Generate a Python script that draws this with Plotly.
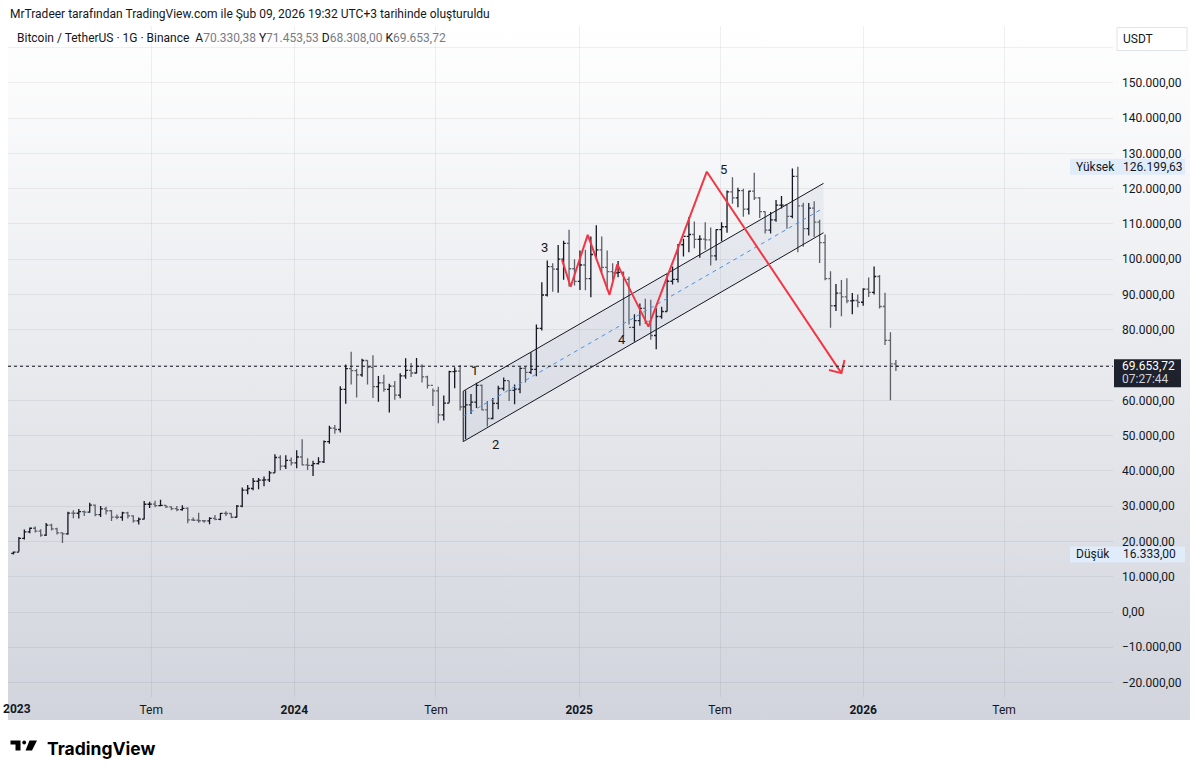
import base64
import pandas as pd
import plotly.graph_objects as go

# ---------------- data (weekly bars) ----------------
first_open = 16620
week_high = [17180, 21260, 23370, 23960, 24250, 23420, 25250, 25020, 23880, 22600,
             28390, 28870, 29190, 28800, 31000, 30480, 30030, 29850, 28880, 27670,
             28450, 28450, 27400, 26800, 31430, 31280, 31500, 31800, 30350, 29990,
             30050, 30250, 29680, 26800, 28140, 26100, 26840, 27480, 28060, 28580,
             27990, 30300, 35280, 35980, 38000, 37980, 38400, 40000, 44700, 44400,
             44400, 43800,
             45880, 48970, 43580, 42840, 43880, 48590, 52820, 52990, 64000, 70170,
             73780, 68920, 71770, 71370, 72800, 66870, 67230, 64730, 65500, 67700,
             71950, 70600, 71990, 70200, 66990, 63370, 63860, 61400, 68380, 69400,
             70000, 62750, 61800, 65000, 64480, 59800, 60670, 64130, 66500, 65550,
             64480, 69400, 69520, 73620, 81500, 93480, 99600, 98870, 104000, 105250,
             108350, 99960, 102500,
             102700, 106400, 109590, 106460, 102500, 98830, 99480, 96500, 95000, 84400,
             87450, 88770, 88500, 86100, 86500, 95760, 97900, 104300, 105800, 111980,
             110700, 106800, 110500, 108950, 108500, 110500, 119500, 123200, 120250, 120000,
             119400, 124470, 117600, 113600, 113400, 116750, 117900, 115400, 125700, 126199.63,
             116000, 115900, 116400, 111200, 107000, 96600, 93000, 94100, 94600, 90400,
             90000, 91800,
             94800, 97900, 95500, 90500, 79300, 71453.53]
week_low = [16333, 17160, 20550, 22300, 22500, 21350, 21530, 23080, 21970, 19550,
            21900, 26600, 26500, 27200, 28150, 27120, 26940, 27650, 25810, 26310,
            25880, 26500, 25350, 24800, 26250, 29500, 29700, 29950, 29500, 28860,
            28580, 28700, 25170, 25800, 25330, 25330, 24900, 26000, 26000, 27200,
            26540, 26780, 29700, 33400, 34520, 34800, 35630, 36880, 39460, 40200,
            40550, 41500,
            40750, 41500, 40280, 38550, 41820, 42260, 47710, 50520, 50900, 59000,
            64500, 60770, 66700, 64500, 60660, 59600, 62400, 56550, 60180, 60600,
            66100, 66600, 67600, 65060, 63380, 58400, 53500, 54260, 59400, 63440,
            57120, 49000, 56100, 57800, 57200, 52550, 54600, 57500, 62700, 59820,
            58900, 62000, 65060, 67460, 66840, 79780, 89400, 90790, 90500, 94150,
            92230, 92520, 91300,
            91200, 89250, 100100, 96300, 91230, 94090, 94870, 78250, 81500, 76600,
            81150, 81600, 77150, 74500, 83100, 85150, 92800, 93400, 100800, 102000,
            103100, 100400, 102700, 98200, 99600, 105100, 107500, 115700, 114700, 112000,
            112650, 116800, 111700, 107300, 107250, 110600, 114400, 108600, 111600, 102000,
            103500, 106700, 106300, 98900, 94000, 80600, 85300, 83800, 87500, 84400,
            86400, 86800,
            89300, 90000, 86000, 75700, 60000, 68308.00]
week_close = [16950, 20880, 22710, 23740, 22930, 21780, 24630, 23550, 22430, 22130,
              28040, 27990, 28450, 28330, 30300, 27600, 29230, 28700, 26900, 26850,
              28070, 27230, 25840, 26340, 30540, 30590, 30170, 30240, 29790, 29280,
              29040, 29400, 26090, 26000, 25860, 25840, 26530, 26260, 27980, 27920,
              26850, 29990, 34520, 35010, 37060, 37370, 37450, 39460, 43790, 41370,
              43000, 42280,
              43930, 41730, 41580, 42030, 42580, 48300, 52140, 51730, 63110, 68960,
              68390, 67210, 71280, 69360, 63900, 64940, 63100, 64010, 61480, 66940,
              68510, 67750, 69650, 66640, 64250, 62680, 55860, 59200, 68160, 68250,
              58160, 58710, 59490, 64220, 57300, 54840, 59130, 63350, 65600, 62820,
              63200, 69030, 67930, 68770, 80370, 89850, 97900, 97190, 100000, 104460,
              97290, 93700, 98360,
              94490, 101330, 102620, 97700, 96460, 96120, 96260, 94270, 80700, 82600,
              86080, 82390, 78370, 83760, 85180, 93750, 94280, 104100, 106450, 107000,
              105600, 105700, 105500, 100960, 108370, 109200, 119100, 117400, 119450, 114200,
              119300, 117400, 113500, 108250, 111150, 115300, 115300, 112150, 123500, 115100,
              108650, 114500, 110500, 104700, 94500, 86800, 90400, 89300, 88200, 88300,
              87800, 91500,
              90600, 95100, 86600, 77000, 70330.38, 69653.72]

last_price = 69653.72
stat_high = 126199.63
stat_low = 16333.00
countdown = "07:27:44"

# drawings
chan_dates = ["2024-08-05", "2025-11-11"]
chan_upper = [62600, 121500]
chan_lower = [48300, 107500]
zig_dates = ["2024-12-10", "2024-12-21", "2025-01-12", "2025-02-09", "2025-02-19",
             "2025-03-31", "2025-06-14", "2025-12-04"]
zig_prices = [99800, 92200, 106900, 89900, 98600, 80900, 124800, 67700]
head_dates = ["2025-11-18", "2025-12-04", "2025-12-08"]
head_prices = [68600, 67700, 71400]
wave_labels = ["1", "2", "3", "4", "5"]
wave_dates = ["2024-08-20", "2024-09-15", "2024-11-17", "2025-02-25", "2025-07-06"]
wave_prices = [68400, 47600, 103400, 77100, 125300]

x_tickvals = ["2023-07-01", "2024-01-01", "2024-07-01",
              "2025-01-01", "2025-07-01", "2026-01-01", "2026-07-01"]
x_ticktext = ["Tem", "<b>2024</b>", "Tem", "<b>2025</b>", "Tem", "<b>2026</b>", "Tem"]
first_year_label = "2023"
y_tickvals = list(range(-20000, 160001, 10000))
y_hidden = [70000, 160000]

# ---------------- layout geometry ----------------
W, H = 1200, 775
L, R, T, B = 8, 1113, 26, 697
YMIN, YMAX = -24093, 166100
FONT = "Roboto, Inter, sans-serif"
INK = "#131722"


def fmt(v):
    s = f"{abs(v):,.2f}".replace(",", "X").replace(".", ",").replace("X", ".")
    return ("\u2212" if v < 0 else "") + s


def pxx(x):
    return (x - L) / (R - L)


def pxy(y):
    return (B - y) / (B - T)


def price_to_paper(p):
    return (p - YMIN) / (YMAX - YMIN)


opens = [first_open] + week_close[:-1]
dates = pd.date_range("2023-01-02", periods=len(week_close), freq="7D") + pd.Timedelta(days=3)

fig = go.Figure()

# channel fill
fig.add_trace(go.Scatter(
    x=chan_dates + chan_dates[::-1] + [chan_dates[0]],
    y=chan_upper + chan_lower[::-1] + [chan_upper[0]],
    mode="lines", fill="toself", fillcolor="rgba(110,130,170,0.09)",
    line=dict(width=0), hoverinfo="skip", showlegend=False))

fig.add_trace(go.Ohlc(
    x=dates, open=opens, high=week_high, low=week_low, close=week_close,
    increasing=dict(line=dict(color="#131722", width=1.3)),
    decreasing=dict(line=dict(color="#5d6069", width=1.3)),
    tickwidth=0.4, hoverinfo="skip", showlegend=False))

# channel lines
fig.add_trace(go.Scatter(x=chan_dates, y=chan_upper, mode="lines",
                         line=dict(color=INK, width=1), hoverinfo="skip", showlegend=False))
fig.add_trace(go.Scatter(x=chan_dates, y=chan_lower, mode="lines",
                         line=dict(color=INK, width=1), hoverinfo="skip", showlegend=False))
fig.add_trace(go.Scatter(x=[chan_dates[0], chan_dates[0]], y=[chan_upper[0], chan_lower[0]], mode="lines",
                         line=dict(color=INK, width=1), hoverinfo="skip", showlegend=False))
fig.add_trace(go.Scatter(x=chan_dates, y=[(a + b) / 2 for a, b in zip(chan_upper, chan_lower)], mode="lines",
                         line=dict(color="#4f8fe8", width=1, dash="4px,4px"), hoverinfo="skip", showlegend=False))

# red wave path and arrow head
fig.add_trace(go.Scatter(x=zig_dates, y=zig_prices, mode="lines",
                         line=dict(color="#f23645", width=2), hoverinfo="skip", showlegend=False))
fig.add_trace(go.Scatter(x=head_dates, y=head_prices, mode="lines",
                         line=dict(color="#f23645", width=2), hoverinfo="skip", showlegend=False))

annotations = []
for t, d, p in zip(wave_labels, wave_dates, wave_prices):
    annotations.append(dict(x=d, y=p, xref="x", yref="y", text=t, showarrow=False,
                            font=dict(family=FONT, size=13, color=INK)))

# first year label at the left edge (kept fully visible)
annotations.append(dict(x=pxx(1), y=pxy(709), xref="paper", yref="paper", text=f"<b>{first_year_label}</b>",
                        showarrow=False, xanchor="left", yanchor="middle",
                        font=dict(family=FONT, size=12, color=INK)))

shapes = []
# current price dotted line
shapes.append(dict(type="line", xref="paper", yref="y", x0=0, x1=1, y0=last_price, y1=last_price,
                   line=dict(color=INK, width=1, dash="dot")))


def stat_label(name, val):
    yc = B - price_to_paper(val) * (B - T)
    shapes.append(dict(type="rect", xref="paper", yref="paper", x0=pxx(1070), x1=pxx(1185),
                       y0=pxy(yc + 8), y1=pxy(yc - 8), fillcolor="#e1ecfa", line=dict(width=0)))
    annotations.append(dict(x=pxx(1074), y=pxy(yc), xref="paper", yref="paper", text=name,
                            xanchor="left", yanchor="middle", showarrow=False,
                            font=dict(family=FONT, size=12, color=INK)))
    annotations.append(dict(x=pxx(1121), y=pxy(yc), xref="paper", yref="paper", text=fmt(val),
                            xanchor="left", yanchor="middle", showarrow=False,
                            font=dict(family=FONT, size=12, color=INK)))


stat_label("Yüksek", stat_high)
stat_label("Düşük", stat_low)

yc = B - price_to_paper(last_price) * (B - T)
shapes.append(dict(type="rect", xref="paper", yref="paper", x0=pxx(1114), x1=pxx(1181),
                   y0=pxy(yc + 21), y1=pxy(yc - 7), fillcolor="#1e222d", line=dict(width=0)))
annotations.append(dict(x=pxx(1120), y=pxy(yc), xref="paper", yref="paper", text=fmt(last_price),
                        xanchor="left", yanchor="middle", showarrow=False,
                        font=dict(family=FONT, size=12, color="#ffffff")))
annotations.append(dict(x=pxx(1120), y=pxy(yc + 13), xref="paper", yref="paper", text=countdown,
                        xanchor="left", yanchor="middle", showarrow=False,
                        font=dict(family=FONT, size=12, color="#d1d4dc")))

# USDT box
shapes.append(dict(type="rect", xref="paper", yref="paper", x0=pxx(1117), x1=pxx(1187),
                   y0=pxy(50.5), y1=pxy(27.5), fillcolor="#ffffff", line=dict(color="#e0e3eb", width=1)))
annotations.append(dict(x=pxx(1121), y=pxy(39), xref="paper", yref="paper", text="USDT",
                        xanchor="left", yanchor="middle", showarrow=False,
                        font=dict(family=FONT, size=12, color=INK)))

# header texts
annotations.append(dict(x=pxx(8), y=pxy(14), xref="paper", yref="paper",
                        text="MrTradeer tarafından TradingView.com ile Şub 09, 2026 19:32 UTC+3 tarihinde oluşturuldu",
                        xanchor="left", yanchor="middle", showarrow=False,
                        font=dict(family=FONT, size=12, color=INK)))
gray = "#787b86"
legend_txt = ("Bitcoin / TetherUS · 1G · Binance  "
              f"A<span style='color:{gray}'>{fmt(opens[-1])}</span> "
              f"Y<span style='color:{gray}'>{fmt(week_high[-1])}</span> "
              f"D<span style='color:{gray}'>{fmt(week_low[-1])}</span> "
              f"K<span style='color:{gray}'>{fmt(week_close[-1])}</span>")
annotations.append(dict(x=pxx(15), y=pxy(38), xref="paper", yref="paper", text=legend_txt,
                        xanchor="left", yanchor="middle", showarrow=False,
                        font=dict(family=FONT, size=12, color=INK)))

# TradingView logo
annotations.append(dict(x=pxx(45), y=pxy(748), xref="paper", yref="paper", text="<b>TradingView</b>",
                        xanchor="left", yanchor="middle", showarrow=False,
                        font=dict(family="Inter, Roboto, sans-serif", size=17.5, color="#000000")))
shapes.append(dict(type="rect", xref="paper", yref="paper", x0=pxx(10.5), x1=pxx(20.5),
                   y0=pxy(744.5), y1=pxy(740.5), fillcolor="#000", line=dict(width=0)))
shapes.append(dict(type="rect", xref="paper", yref="paper", x0=pxx(15.5), x1=pxx(20.5),
                   y0=pxy(750.5), y1=pxy(744), fillcolor="#000", line=dict(width=0)))
shapes.append(dict(type="circle", xref="paper", yref="paper", x0=pxx(22.3), x1=pxx(26.1),
                   y0=pxy(744.4), y1=pxy(740.6), fillcolor="#000", line=dict(width=0)))
shapes.append(dict(type="path", xref="paper", yref="paper",
                   path=f"M {pxx(29.5)},{pxy(740.5)} L {pxx(37)},{pxy(740.5)} L {pxx(32)},{pxy(750.5)} L {pxx(25.5)},{pxy(750.5)} Z",
                   fillcolor="#000", line=dict(width=0)))

# gradient background
svg = ('<svg xmlns="http://www.w3.org/2000/svg" width="100" height="100" preserveAspectRatio="none">'
       '<defs><linearGradient id="g" x1="0" y1="0" x2="0" y2="1">'
       '<stop offset="0" stop-color="#ffffff"/><stop offset="1" stop-color="#d1d4dc"/>'
       '</linearGradient></defs><rect width="100" height="100" fill="url(#g)"/></svg>')
src = "data:image/svg+xml;base64," + base64.b64encode(svg.encode()).decode()
images = [dict(source=src, xref="paper", yref="paper", x=pxx(8), y=pxy(26),
               sizex=pxx(1190) - pxx(8), sizey=pxy(26) - pxy(720), sizing="stretch",
               xanchor="left", yanchor="top", layer="below")]

y_ticktext = ["" if v in y_hidden else fmt(v) for v in y_tickvals]
grid = "rgba(42,46,57,0.07)"

fig.update_layout(
    width=W, height=H, autosize=False,
    margin=dict(l=L, r=W - R, t=T, b=H - B, pad=0),
    paper_bgcolor="#ffffff", plot_bgcolor="rgba(0,0,0,0)",
    font=dict(family=FONT, size=12, color=INK),
    showlegend=False, hovermode=False,
    shapes=shapes, annotations=annotations, images=images,
    xaxis=dict(type="date", range=["2022-12-29", "2026-11-18"], tickvals=x_tickvals, ticktext=x_ticktext,
               showgrid=True, gridcolor=grid, gridwidth=1, zeroline=False, showline=False,
               ticks="", ticklabelstandoff=4, rangeslider=dict(visible=False), fixedrange=True,
               tickfont=dict(family=FONT, size=12, color=INK)),
    yaxis=dict(side="right", range=[YMIN, YMAX], tickvals=y_tickvals, ticktext=y_ticktext,
               showgrid=True, gridcolor=grid, gridwidth=1, zeroline=False, showline=False,
               ticks="", ticklabelstandoff=8, fixedrange=True,
               tickfont=dict(family=FONT, size=12, color=INK)),
)

fig.write_html("out.html", config={"displayModeBar": False, "staticPlot": True})
